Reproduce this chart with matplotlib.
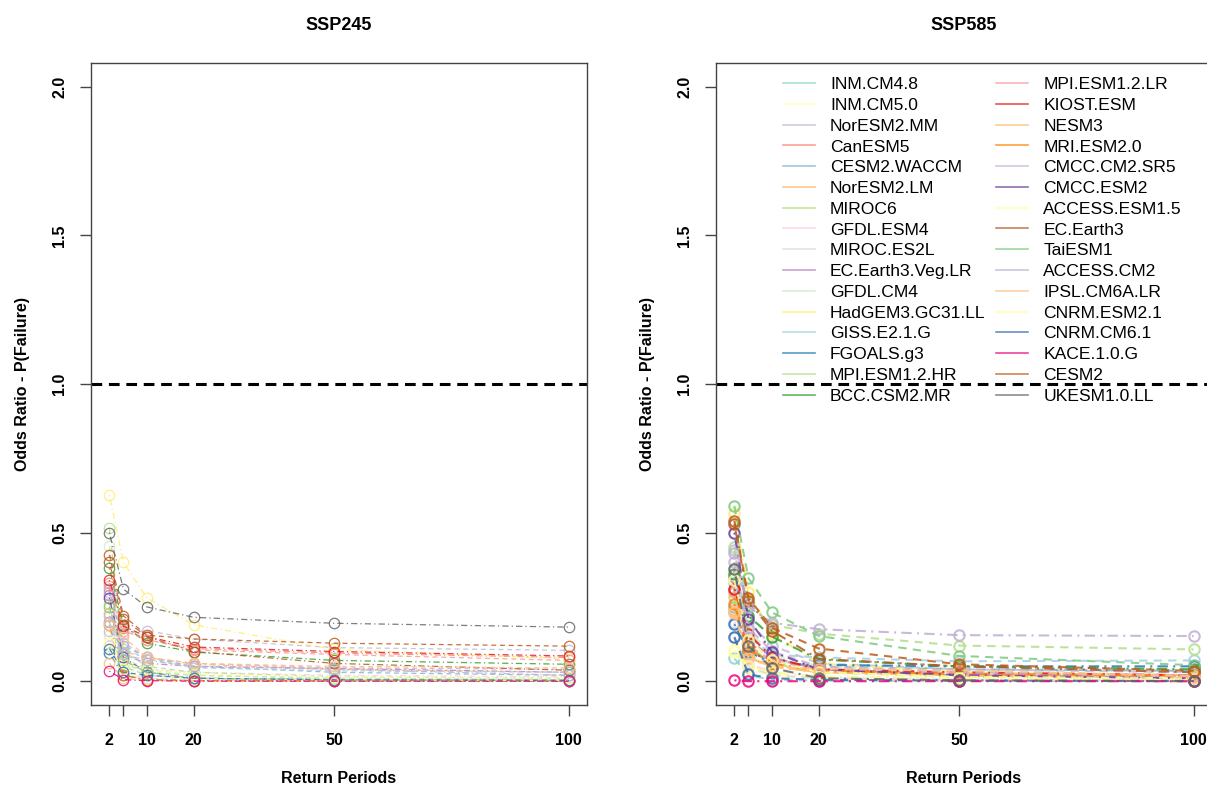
import numpy as np
import matplotlib
matplotlib.use("Agg")
import matplotlib.pyplot as plt
from matplotlib.lines import Line2D

plt.rcParams['font.family'] = ['Liberation Sans', 'DejaVu Sans']

# return periods on the x axis
periods = [2, 5, 10, 20, 50, 100]
tick_labels = ['2', '', '10', '20', '50', '100']

models = ['INM.CM4.8', 'INM.CM5.0', 'NorESM2.MM', 'CanESM5', 'CESM2.WACCM',
          'NorESM2.LM', 'MIROC6', 'GFDL.ESM4', 'MIROC.ES2L', 'EC.Earth3.Veg.LR',
          'GFDL.CM4', 'HadGEM3.GC31.LL', 'GISS.E2.1.G', 'FGOALS.g3', 'MPI.ESM1.2.HR',
          'BCC.CSM2.MR', 'MPI.ESM1.2.LR', 'KIOST.ESM', 'NESM3', 'MRI.ESM2.0',
          'CMCC.CM2.SR5', 'CMCC.ESM2', 'ACCESS.ESM1.5', 'EC.Earth3', 'TaiESM1',
          'ACCESS.CM2', 'IPSL.CM6A.LR', 'CNRM.ESM2.1', 'CNRM.CM6.1', 'KACE.1.0.G',
          'CESM2', 'UKESM1.0.LL']

# Set3 + Paired + Accent palettes (as in the original R figure)
colors = ['#8DD3C7', '#FFFFB3', '#BEBADA', '#FB8072', '#80B1D3', '#FDB462',
          '#B3DE69', '#FCCDE5', '#D9D9D9', '#BC80BD', '#CCEBC5', '#FFED6F',
          '#A6CEE3', '#1F78B4', '#B2DF8A', '#33A02C', '#FB9A99', '#E31A1C',
          '#FDBF6F', '#FF7F00', '#CAB2D6', '#6A3D9A', '#FFFF99', '#B15928',
          '#7FC97F', '#BEAED4', '#FDC086', '#FFFF99', '#386CB0', '#F0027F',
          '#BF5B17', '#666666']

# odds ratio of P(failure), one row per model, columns follow `periods`
ssp245 = [
    [0.20, 0.05, 0.02, 0.01, 0.005, 0.003],
    [0.14, 0.03, 0.01, 0.005, 0.002, 0.001],
    [0.30, 0.16, 0.17, 0.142, 0.113, 0.104],
    [0.33, 0.18, 0.14, 0.11, 0.095, 0.08],
    [0.31, 0.12, 0.08, 0.05, 0.03, 0.02],
    [0.23, 0.10, 0.08, 0.057, 0.04, 0.03],
    [0.26, 0.06, 0.03, 0.02, 0.01, 0.005],
    [0.155, 0.07, 0.04, 0.03, 0.02, 0.015],
    [0.12, 0.03, 0.01, 0.005, 0.002, 0.001],
    [0.29, 0.09, 0.06, 0.05, 0.043, 0.03],
    [0.455, 0.08, 0.04, 0.02, 0.01, 0.005],
    [0.626, 0.40, 0.28, 0.19, 0.107, 0.075],
    [0.17, 0.11, 0.075, 0.045, 0.035, 0.03],
    [0.094, 0.02, 0.005, 0.002, 0.001, 0.0],
    [0.515, 0.10, 0.05, 0.03, 0.015, 0.01],
    [0.38, 0.19, 0.128, 0.098, 0.07, 0.057],
    [0.32, 0.17, 0.14, 0.105, 0.09, 0.07],
    [0.34, 0.185, 0.15, 0.115, 0.10, 0.085],
    [0.06, 0.01, 0.003, 0.001, 0.0, 0.0],
    [0.19, 0.02, 0.005, 0.002, 0.001, 0.0],
    [0.22, 0.13, 0.08, 0.06, 0.045, 0.04],
    [0.28, 0.08, 0.03, 0.01, 0.005, 0.002],
    [0.128, 0.06, 0.04, 0.025, 0.015, 0.01],
    [0.40, 0.21, 0.15, 0.10, 0.06, 0.037],
    [0.25, 0.07, 0.03, 0.01, 0.005, 0.002],
    [0.20, 0.09, 0.07, 0.05, 0.04, 0.02],
    [0.19, 0.15, 0.08, 0.06, 0.05, 0.045],
    [0.11, 0.04, 0.02, 0.01, 0.005, 0.002],
    [0.11, 0.03, 0.02, 0.01, 0.005, 0.003],
    [0.034, 0.005, 0.002, 0.0, 0.0, 0.0],
    [0.425, 0.22, 0.155, 0.142, 0.128, 0.118],
    [0.50, 0.31, 0.25, 0.215, 0.195, 0.182],
]

ssp585 = [
    [0.077, 0.02, 0.005, 0.002, 0.001, 0.0],
    [0.10, 0.04, 0.02, 0.01, 0.005, 0.003],
    [0.44, 0.20, 0.12, 0.06, 0.04, 0.03],
    [0.306, 0.13, 0.08, 0.04, 0.025, 0.02],
    [0.25, 0.10, 0.07, 0.05, 0.04, 0.035],
    [0.24, 0.08, 0.05, 0.03, 0.02, 0.015],
    [0.283, 0.12, 0.06, 0.03, 0.015, 0.01],
    [0.20, 0.06, 0.03, 0.015, 0.01, 0.005],
    [0.15, 0.05, 0.02, 0.01, 0.005, 0.002],
    [0.35, 0.14, 0.08, 0.04, 0.02, 0.015],
    [0.38, 0.17, 0.09, 0.05, 0.03, 0.02],
    [0.565, 0.30, 0.16, 0.06, 0.03, 0.02],
    [0.33, 0.15, 0.09, 0.08, 0.067, 0.07],
    [0.192, 0.10, 0.06, 0.055, 0.05, 0.05],
    [0.45, 0.26, 0.19, 0.16, 0.12, 0.107],
    [0.36, 0.22, 0.15, 0.073, 0.05, 0.04],
    [0.30, 0.12, 0.07, 0.04, 0.025, 0.02],
    [0.31, 0.16, 0.08, 0.04, 0.03, 0.02],
    [0.23, 0.09, 0.05, 0.03, 0.02, 0.01],
    [0.26, 0.11, 0.06, 0.035, 0.025, 0.02],
    [0.40, 0.18, 0.10, 0.05, 0.03, 0.02],
    [0.50, 0.21, 0.10, 0.04, 0.02, 0.01],
    [0.34, 0.14, 0.07, 0.03, 0.015, 0.01],
    [0.53, 0.27, 0.17, 0.075, 0.05, 0.03],
    [0.59, 0.347, 0.232, 0.152, 0.085, 0.054],
    [0.43, 0.25, 0.197, 0.175, 0.155, 0.152],
    [0.232, 0.077, 0.05, 0.04, 0.037, 0.017],
    [0.104, 0.05, 0.03, 0.015, 0.01, 0.005],
    [0.148, 0.023, 0.01, 0.005, 0.002, 0.001],
    [0.003, 0.0, 0.0, 0.0, 0.0, 0.0],
    [0.54, 0.28, 0.18, 0.11, 0.057, 0.035],
    [0.377, 0.118, 0.045, 0.01, 0.003, 0.0],
]

DASHED = (4, 3)
DOTDASH = (1, 2.5, 5, 2.5)


def draw_panel(ax, data, title, lw):
    for i, vals in enumerate(data):
        dash = DASHED if i % 2 == 0 else DOTDASH
        ax.plot(periods, vals, color=colors[i], alpha=0.85, lw=lw,
                dashes=dash, marker='o', mfc='none', mec=colors[i],
                mew=lw, ms=7.5)
    ax.axhline(1.0, color='black', lw=2.2, dashes=(3.5, 2.2))

    ax.set_xlim(-1.92, 103.92)
    ax.set_ylim(-0.08, 2.08)
    ax.set_xticks(periods)
    ax.set_xticklabels(tick_labels)
    ax.set_yticks([0.0, 0.5, 1.0, 1.5, 2.0])
    ax.set_yticklabels(['0.0', '0.5', '1.0', '1.5', '2.0'], rotation=90, va='center')
    ax.tick_params(direction='out', length=8, width=1, color='#444444',
                   labelsize=11.5)
    ax.tick_params(axis='x', pad=12)
    ax.tick_params(axis='y', pad=9)
    for lab in ax.get_xticklabels() + ax.get_yticklabels():
        lab.set_fontweight('bold')
    for sp in ax.spines.values():
        sp.set_color('#444444')
        sp.set_linewidth(1)
    ax.set_title(title, fontsize=13, fontweight='bold', pad=24)
    ax.set_xlabel('Return Periods', fontsize=11.5, fontweight='bold', labelpad=17)
    ax.set_ylabel('Odds Ratio - P(Failure)', fontsize=11.5, fontweight='bold', labelpad=16)


fig = plt.figure(figsize=(12.07, 7.86), dpi=100)
ax1 = fig.add_axes([91 / 1207, 1 - 705 / 786, 496 / 1207, 642 / 786])
ax2 = fig.add_axes([716 / 1207, 1 - 705 / 786, 496 / 1207, 642 / 786])

draw_panel(ax1, ssp245, 'SSP245', 0.9)
draw_panel(ax2, ssp585, 'SSP585', 1.5)

handles = [Line2D([0], [0], color=c, alpha=0.75, lw=1.2) for c in colors]
ax2.legend(handles, models, ncol=2, frameon=False, fontsize=12.6,
           loc='upper left', bbox_to_anchor=(783 / 1207, 1 - 77 / 786),
           bbox_transform=fig.transFigure, handlelength=1.83,
           handletextpad=0.86, columnspacing=0.6, labelspacing=0.315,
           borderaxespad=0, borderpad=0)

fig.savefig('out.png', dpi=100)
